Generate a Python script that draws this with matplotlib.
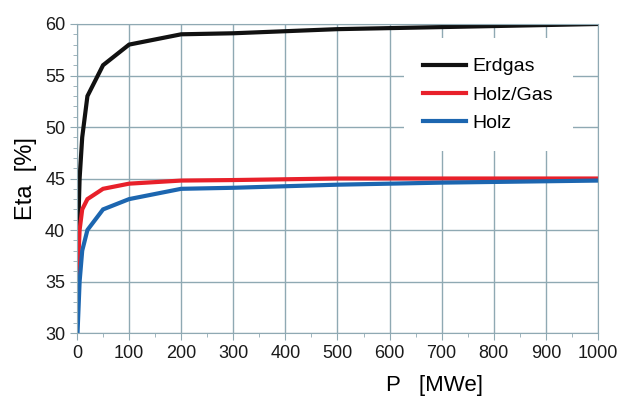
import numpy as np
import matplotlib.pyplot as plt

# Wirkungsgrad ueber Leistung
p_erdgas = [1, 5, 10, 20, 50, 100, 200, 300, 500, 700, 1000]
eta_erdgas = [38, 45, 49, 53, 56, 58, 59, 59.1, 59.5, 59.7, 60]

p_holzgas = [1, 5, 10, 20, 50, 100, 200, 300, 500, 700, 1000]
eta_holzgas = [35.5, 40, 42, 43, 44, 44.5, 44.8, 44.85, 45, 45, 45]

p_holz = [1, 5, 10, 20, 50, 100, 200, 300, 500, 700, 1000]
eta_holz = [30, 35, 38, 40, 42, 43, 44, 44.1, 44.4, 44.6, 44.8]

gridcol = "#8fa9b3"
plt.rcParams['font.family'] = ['Liberation Sans', 'DejaVu Sans']

fig = plt.figure(figsize=(6.19, 4.04), dpi=100)
ax = fig.add_axes([0.1244, 0.1757, 0.8416, 0.7649])

ax.plot(p_erdgas, eta_erdgas, color="#111111", lw=3, label="Erdgas", solid_joinstyle="miter")
ax.plot(p_holzgas, eta_holzgas, color="#e8202a", lw=3, label="Holz/Gas", solid_joinstyle="miter")
ax.plot(p_holz, eta_holz, color="#1c66b0", lw=3, label="Holz", solid_joinstyle="miter")

ax.set_xlim(0, 1000)
ax.set_ylim(30, 60)
ax.set_xticks(np.arange(0, 1001, 100))
ax.set_xticks(np.arange(0, 1001, 50), minor=True)
ax.set_yticks(np.arange(30, 61, 5))
ax.set_yticks(np.arange(30, 61, 1), minor=True)
ax.grid(True, which="major", color=gridcol, lw=1)
ax.tick_params(which="both", direction="out", colors=gridcol, labelcolor="#1a1a1a", labelsize=13)
ax.tick_params(which="major", length=5)
ax.tick_params(which="minor", length=3)
for s in ax.spines.values():
    s.set_color(gridcol)

ax.set_ylabel("Eta  [%]", fontsize=17, labelpad=6)
ax.set_xlabel("P   [MWe]", fontsize=16)
ax.xaxis.set_label_coords(0.687, -0.135)

leg = ax.legend(loc="upper right", bbox_to_anchor=(0.97, 0.985), frameon=True, fontsize=14,
                handlelength=2.2, handletextpad=0.35, labelspacing=0.55, borderpad=1.0)
leg.get_frame().set_edgecolor("none")
leg.get_frame().set_facecolor("white")
leg.get_frame().set_alpha(1)

fig.savefig("out.png", dpi=100)
